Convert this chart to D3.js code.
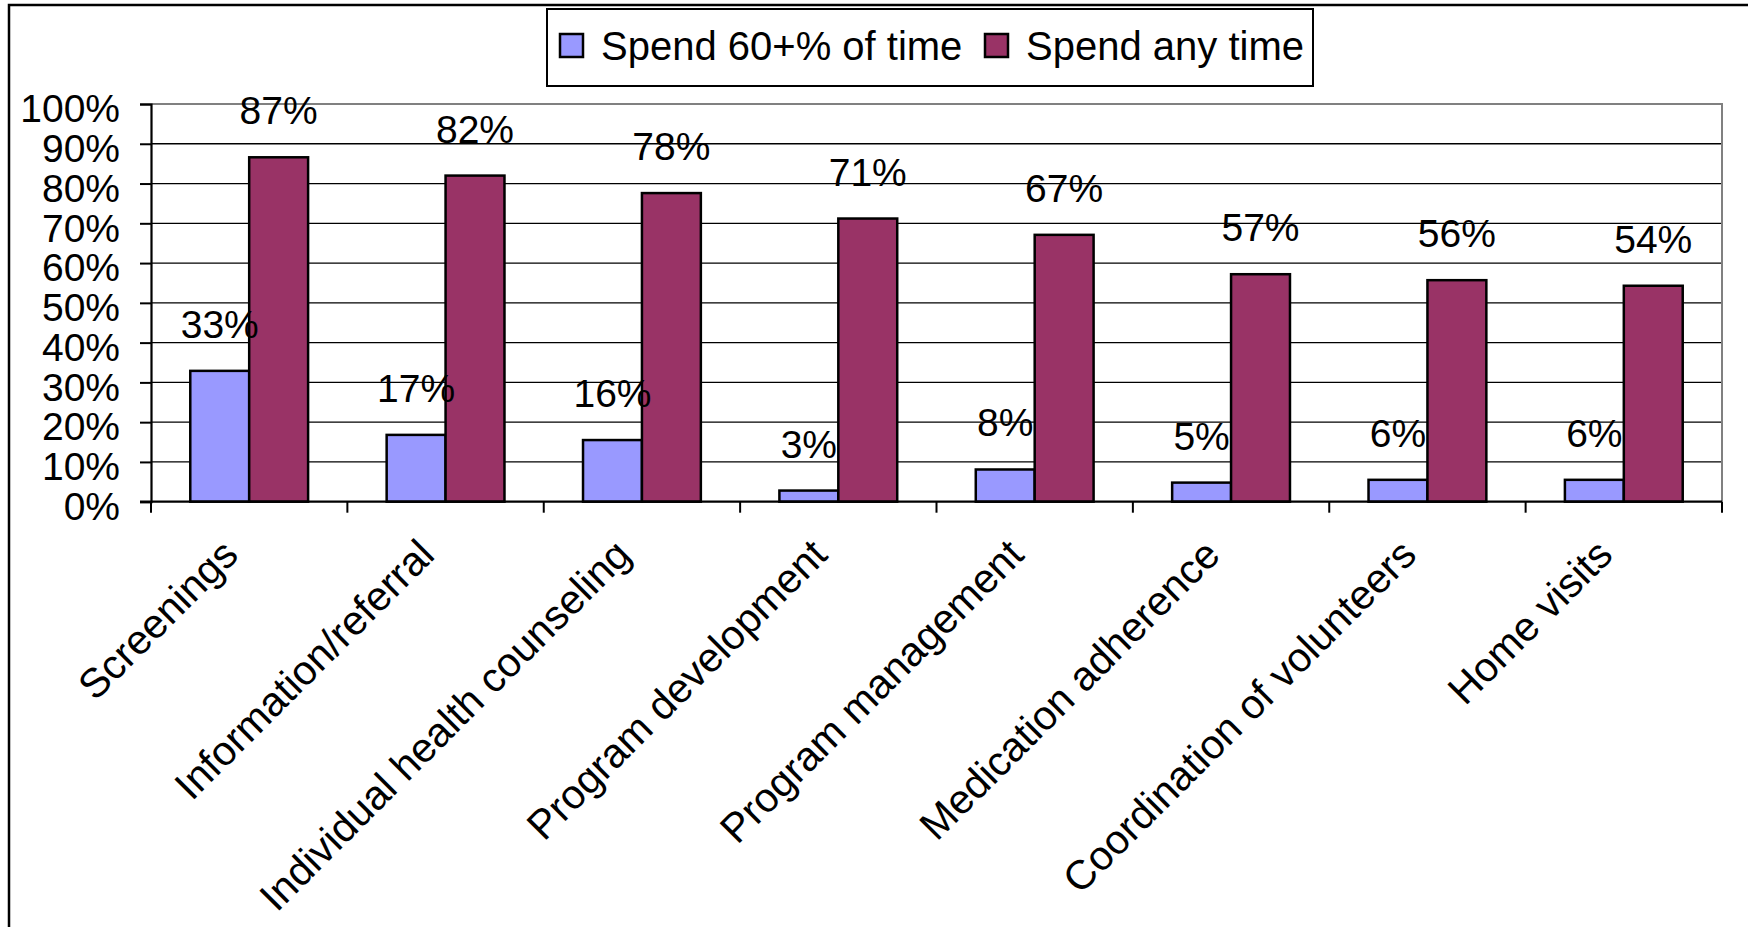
<!DOCTYPE html>
<html>
<head>
<meta charset="utf-8">
<script src="https://cdn.jsdelivr.net/npm/d3@7/dist/d3.min.js"></script>
<style>
  html, body { margin: 0; padding: 0; background: #fff; }
  svg text { font-family: "Liberation Sans", Arial, sans-serif; fill: #000; }
</style>
</head>
<body>
<svg id="chart" width="1748" height="927"></svg>
<script>
const categories = ["Screenings", "Information/referral", "Individual health counseling",
  "Program development", "Program management", "Medication adherence",
  "Coordination of volunteers", "Home visits"];
const seriesNames = ["Spend 60+% of time", "Spend any time"];
const spend60 = [32.9, 16.8, 15.5, 2.8, 8.1, 4.8, 5.5, 5.5];
const spendAny = [86.6, 82.0, 77.6, 71.2, 67.1, 57.2, 55.7, 54.3];
const yTicks = [0, 10, 20, 30, 40, 50, 60, 70, 80, 90, 100];
const colors = ["#9999FF", "#993366"];

(function () {
const svg = d3.select("#chart");
svg.append("rect").attr("width", 1748).attr("height", 927).attr("fill", "#fff");

// outer chart border
svg.append("rect").attr("x", 9).attr("y", 5).attr("width", 1780).attr("height", 960)
  .attr("fill", "none").attr("stroke", "#000").attr("stroke-width", 2.5);

const pL = 151, pR = 1722, pT = 104, pB = 501.7;
const x = d3.scaleBand().domain(categories).range([pL, pR]).paddingInner(0).paddingOuter(0);
const y = d3.scaleLinear().domain([0, 100]).range([pB, pT]);
const bw = x.bandwidth() * 0.3;

// gridlines
svg.append("g").selectAll("line").data(yTicks.filter(t => t > 0 && t < 100)).join("line")
  .attr("x1", pL).attr("x2", pR).attr("y1", d => y(d)).attr("y2", d => y(d))
  .attr("stroke", "#000").attr("stroke-width", 1.3);

// plot area top & right border (gray)
svg.append("path")
  .attr("d", `M${pL},${y(100)}H${pR}V${pB}`)
  .attr("fill", "none").attr("stroke", "#808080").attr("stroke-width", 2);

// bars
[spend60, spendAny].forEach((vals, si) => {
  svg.append("g").selectAll("rect").data(categories).join("rect")
    .attr("x", (d) => x(d) + x.bandwidth() / 2 - bw + si * bw)
    .attr("y", (d, i) => y(vals[i]))
    .attr("width", bw)
    .attr("height", (d, i) => pB - y(vals[i]))
    .attr("fill", colors[si]).attr("stroke", "#000").attr("stroke-width", 2.5);
});

// data labels
[spend60, spendAny].forEach((vals, si) => {
  svg.append("g").selectAll("text").data(categories).join("text")
    .attr("x", (d) => x(d) + x.bandwidth() / 2 - bw / 2 + si * bw)
    .attr("y", (d, i) => y(vals[i]) - 33)
    .attr("text-anchor", "middle").attr("font-size", 39)
    .text((d, i) => Math.round(vals[i]) + "%");
});

// y axis
const yAxis = d3.axisLeft(y).tickValues(yTicks).tickSize(11).tickPadding(20)
  .tickFormat(d => d + "%");
const ya = svg.append("g").attr("transform", `translate(${pL},0)`).call(yAxis);
ya.select(".domain").attr("stroke", "#000").attr("stroke-width", 2.2);
ya.selectAll(".tick line").attr("stroke", "#000").attr("stroke-width", 2);
ya.selectAll(".tick text").attr("font-size", 39).attr("dy", "0.38em")
  .attr("font-family", "Liberation Sans, Arial, sans-serif").attr("fill", "#000")
  .attr("transform", "translate(0,3)");

// x axis line and ticks at category boundaries
svg.append("line").attr("x1", pL - 11).attr("x2", pR).attr("y1", pB).attr("y2", pB)
  .attr("stroke", "#000").attr("stroke-width", 2.2);
const bounds = categories.map(c => x(c)).concat([pR]);
svg.append("g").selectAll("line").data(bounds).join("line")
  .attr("x1", d => d).attr("x2", d => d).attr("y1", pB).attr("y2", pB + 11)
  .attr("stroke", "#000").attr("stroke-width", 2);

// category labels
svg.append("g").selectAll("text").data(categories).join("text")
  .attr("transform", d => `translate(${x(d) + x.bandwidth() / 2 - 9},557) rotate(-45)`)
  .attr("text-anchor", "end").attr("font-size", 41)
  .text(d => d);

// legend
const lg = svg.append("g");
lg.append("rect").attr("x", 547).attr("y", 9).attr("width", 766).attr("height", 77)
  .attr("fill", "#fff").attr("stroke", "#000").attr("stroke-width", 2);
const legendX = [560, 985];
seriesNames.forEach((n, i) => {
  lg.append("rect").attr("x", legendX[i]).attr("y", 34).attr("width", 23).attr("height", 23)
    .attr("fill", colors[i]).attr("stroke", "#000").attr("stroke-width", 2.5);
  lg.append("text").attr("x", legendX[i] + 41).attr("y", 60).attr("font-size", 40).text(n);
});
})();
</script>
</body>
</html>
